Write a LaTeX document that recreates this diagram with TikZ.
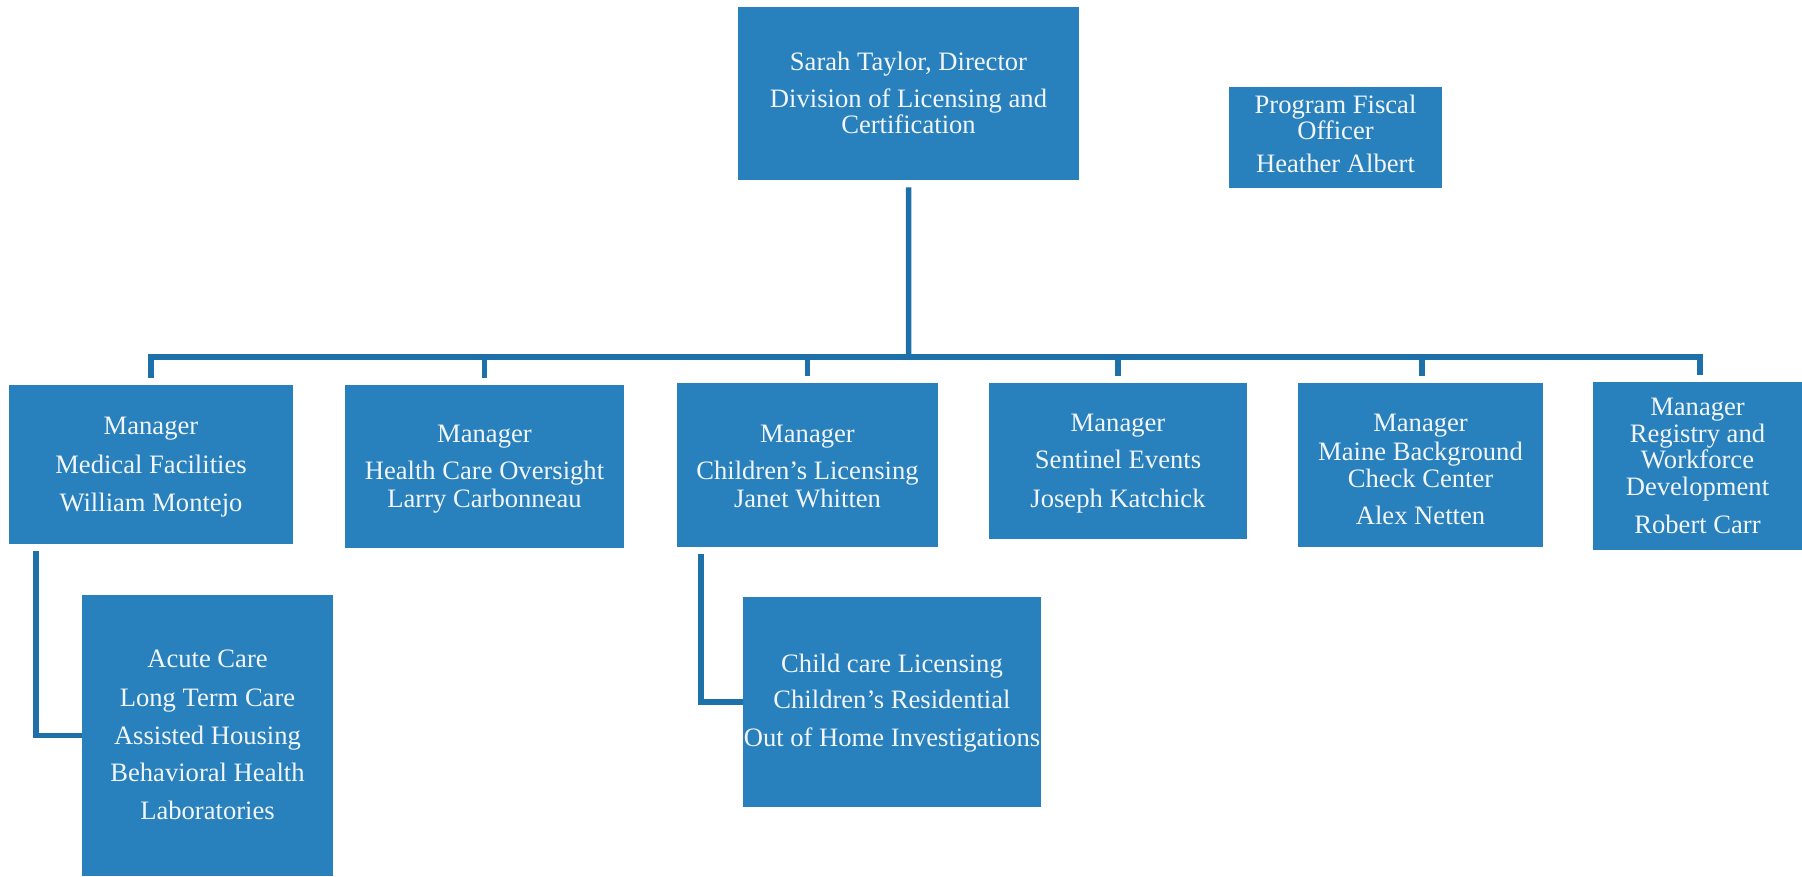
\documentclass[tikz,border=0pt]{standalone}
\usepackage{fontspec}
\setmainfont{Liberation Serif}
\definecolor{boxblue}{RGB}{40,128,188}
\definecolor{lineblue}{RGB}{30,112,168}
\definecolor{txtwhite}{RGB}{242,246,250}
\tikzset{
  orgbox/.style={draw=none, fill=boxblue, rectangle, inner sep=0pt, anchor=north west},
  orgtxt/.style={text=txtwhite, align=center, inner sep=0pt, anchor=north,
                 font=\fontsize{26.6}{26.5}\selectfont},
  conn/.style={draw=lineblue, line width=5.5pt, line join=miter}
}
\begin{document}
\begin{tikzpicture}[x=1pt, y=-1pt]
\useasboundingbox (0,0) rectangle (1802,876);
\fill[white] (0,0) rectangle (1802,876);

% boxes
\node[orgbox, minimum width=341pt, minimum height=173pt] (dir) at (738,7) {};
\node[orgbox, minimum width=213pt, minimum height=101pt] (fis) at (1229,87) {};
\node[orgbox, minimum width=284pt, minimum height=159pt] (m1) at (9,385) {};
\node[orgbox, minimum width=279pt, minimum height=163pt] (m2) at (345,385) {};
\node[orgbox, minimum width=261pt, minimum height=164pt] (m3) at (677,383) {};
\node[orgbox, minimum width=258pt, minimum height=156pt] (m4) at (989,383) {};
\node[orgbox, minimum width=245pt, minimum height=164pt] (m5) at (1298,383) {};
\node[orgbox, minimum width=209pt, minimum height=168pt] (m6) at (1593,382) {};
\node[orgbox, minimum width=251pt, minimum height=281pt] (s1) at (82,595) {};
\node[orgbox, minimum width=298pt, minimum height=210pt] (s2) at (743,597) {};

% texts
\node[orgtxt] (tdir) at (908.5,51.8) {Sarah Taylor, Director\\[10.5pt]Division of Licensing and\\Certification};
\node[orgtxt] (tfis) at (1335.5,94.8) {Program Fiscal\\Officer\\[6.5pt]Heather Albert};
\node[orgtxt] (tm1) at (151,416.4) {Manager\\[12.5pt]Medical Facilities\\[11.5pt]William Montejo};
\node[orgtxt] (tm2) at (484.5,424.4) {Manager\\[10.5pt]Health Care Oversight\\[1.5pt]Larry Carbonneau};
\node[orgtxt] (tm3) at (807.5,424.4) {Manager\\[10.5pt]Children’s Licensing\\[1.5pt]Janet Whitten};
\node[orgtxt] (tm4) at (1118,413.4) {Manager\\[10.5pt]Sentinel Events\\[12.5pt]Joseph Katchick};
\node[orgtxt] (tm5) at (1420.5,413.4) {Manager\\[2.5pt]Maine Background\\[0.5pt]Check Center\\[10.5pt]Alex Netten};
\node[orgtxt] (tm6) at (1697.5,397.4) {Manager\\[0.5pt]Registry and\\Workforce\\[0.5pt]Development\\[11.5pt]Robert Carr};
\node[orgtxt] (ts1) at (207.5,650.1) {Acute Care\\[12.5pt]Long Term Care\\[11.5pt]Assisted Housing\\[10.5pt]Behavioral Health\\[11.5pt]Laboratories};
\node[orgtxt] (ts2) at (892,653.8) {Child care Licensing\\[9.5pt]Children’s Residential\\[11.5pt]Out of Home Investigations};

% connectors
\coordinate (bus) at (908.5,357);
\draw[conn] ([yshift=-7pt]dir.south) -- (bus);
\draw[conn] ([yshift=7pt]m1.north) |- (bus) -| ([xshift=2.5pt,yshift=7pt]m6.north);
\draw[conn] ([yshift=7pt]m2.north) -- (m2.north |- bus);
\draw[conn] ([yshift=7pt]m3.north) -- (m3.north |- bus);
\draw[conn] ([yshift=7pt]m4.north) -- (m4.north |- bus);
\draw[conn] ([xshift=1.5pt,yshift=7pt]m5.north) -- ([xshift=1.5pt]m5.north |- bus);
\draw[conn] ([xshift=27pt,yshift=-7pt]m1.south west) |- (s1.west);
\draw[conn] ([xshift=24pt,yshift=-7pt]m3.south west) |- (s2.west);
\end{tikzpicture}
\end{document}
